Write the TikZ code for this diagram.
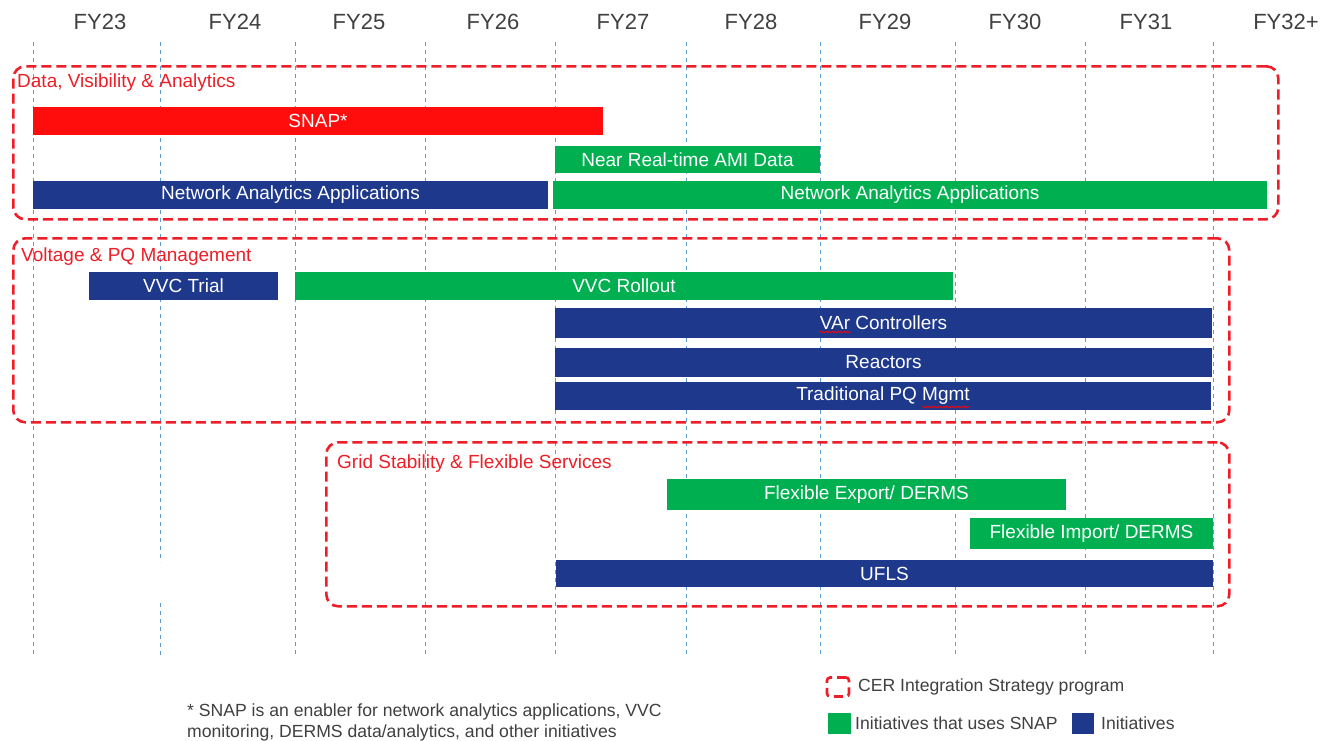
\documentclass[tikz,border=0pt]{standalone}
\usepackage{fontspec}
\setmainfont{Liberation Sans}
\usetikzlibrary{decorations.pathmorphing}
\definecolor{barred}{RGB}{255,12,12}
\definecolor{bargreen}{RGB}{0,176,80}
\definecolor{barblue}{RGB}{30,56,140}
\definecolor{gridblue}{RGB}{91,155,213}
\definecolor{grpred}{RGB}{238,30,40}
\definecolor{fytext}{RGB}{64,64,64}
\begin{document}
\begin{tikzpicture}[x=1pt,y=-1pt,
  bar/.style={anchor=north west, inner sep=0pt, outer sep=0pt, text=white,
    font=\fontsize{19}{20}\selectfont},
  grp/.style={anchor=north west, draw=grpred, line width=2.6pt,
    dash pattern=on 10pt off 5pt, rounded corners=12pt, inner sep=0pt},
  grplabel/.style={anchor=west, text=grpred, inner sep=0pt,
    font=\fontsize{19}{20}\selectfont},
  fy/.style={text=fytext, font=\fontsize{22}{24}\selectfont},
  gridline/.style={draw=gridblue, line width=1pt, dash pattern=on 4pt off 4pt},
  note/.style={text=fytext, anchor=base west, inner sep=0pt,
    font=\fontsize{17.6}{20}\selectfont},
  squig/.style={draw=red, line width=0.7pt, decorate,
    decoration={snake, amplitude=0.9pt, segment length=3pt}}]

\useasboundingbox (0,0) rectangle (1332,740);
\fill[white] (0,0) rectangle (1332,740);

% vertical year separators
\foreach \x [count=\i] in {33,295,425,555,686,820,955,1085,1213} {
  \coordinate (gt\i) at (\x,42);
  \coordinate (gb\i) at (\x,655);
  \draw[gridline] (gt\i) -- (gb\i);
}
\coordinate (gfa) at (160,42);
\coordinate (gfb) at (160,562);
\coordinate (gfc) at (160,603);
\coordinate (gfd) at (160,655);
\draw[gridline] (gfa) -- (gfb);
\draw[gridline] (gfc) -- (gfd);

% year labels
\foreach \t/\x [count=\i] in {FY23/100,FY24/235,FY25/359,FY26/493,FY27/623,FY28/751,FY29/885,FY30/1015,FY31/1146,FY32+/1286}
  \node[fy] (fy\i) at (\x,22) {\t};

% group boxes
\node[grp, minimum width=1265pt, minimum height=153pt] (g1) at (12,65) {};
\node[grplabel] (g1l) at (17,83) {Data, Visibility \& Analytics};
\node[grp, minimum width=1216pt, minimum height=184pt] (g2) at (12,237) {};
\node[grplabel] (g2l) at (21,257) {Voltage \& PQ Management};
\node[grp, minimum width=903pt, minimum height=164pt] (g3) at (325,441) {};
\node[grplabel] (g3l) at (337,464) {Grid Stability \& Flexible Services};

% bars
\node[bar, fill=barred,   minimum width=570pt, minimum height=28pt] (snap)  at (33,107)  {SNAP*};
\node[bar, fill=bargreen, minimum width=265pt, minimum height=27pt] (ami)   at (555,146) {Near Real-time AMI Data};
\node[bar, fill=barblue,  minimum width=515pt, minimum height=28pt] (naa1)  at (33,181)  {Network Analytics Applications};
\node[bar, fill=bargreen, minimum width=714pt, minimum height=28pt] (naa2)  at (553,181) {Network Analytics Applications};
\node[bar, fill=barblue,  minimum width=189pt, minimum height=28pt] (vvct)  at (89,272)  {VVC Trial};
\node[bar, fill=bargreen, minimum width=658pt, minimum height=28pt] (vvcr)  at (295,272) {VVC Rollout};
\node[bar, fill=barblue,  minimum width=657pt, minimum height=30pt] (var)   at (555,308) {VAr Controllers};
\node[bar, fill=barblue,  minimum width=657pt, minimum height=29pt] (reac)  at (555,348) {Reactors};
\node[bar, fill=barblue,  minimum width=656pt, minimum height=28pt] (trad)  at (555,382) {Traditional PQ Mgmt};
\node[bar, fill=bargreen, minimum width=399pt, minimum height=31pt] (fexp)  at (667,479) {Flexible Export/ DERMS};
\node[bar, fill=bargreen, minimum width=243pt, minimum height=31pt] (fimp)  at (970,518) {Flexible Import/ DERMS};
\node[bar, fill=barblue,  minimum width=657pt, minimum height=27pt] (ufls)  at (556,560) {UFLS};

% spell-check squiggles
\draw[squig] ([xshift=-64pt,yshift=-9pt]var.center) -- ([xshift=-33pt,yshift=-9pt]var.center);
\draw[squig] ([xshift=39pt,yshift=-11pt]trad.center) -- ([xshift=87pt,yshift=-11pt]trad.center);

% footnote
\node[note] (fn1) at (187,716) {* SNAP is an enabler for network analytics applications, VVC};
\node[note] (fn2) at (187,737) {monitoring, DERMS data/analytics, and other initiatives};

% legend
\node[draw=grpred, line width=2.6pt, dash pattern=on 9pt off 5pt, rounded corners=3pt,
      minimum width=22pt, minimum height=19pt, inner sep=0pt] (lg1) at (838,687) {};
\node[note, anchor=west] (lg1t) at (858,687) {CER Integration Strategy program};
\node[fill=bargreen, minimum width=23pt, minimum height=21pt, inner sep=0pt] (lg2) at (839,723) {};
\node[note, anchor=west] (lg2t) at (855,723) {Initiatives that uses SNAP};
\node[fill=barblue, minimum width=22pt, minimum height=21pt, inner sep=0pt] (lg3) at (1083,723) {};
\node[note, anchor=west] (lg3t) at (1101,723) {Initiatives};
\end{tikzpicture}
\end{document}
